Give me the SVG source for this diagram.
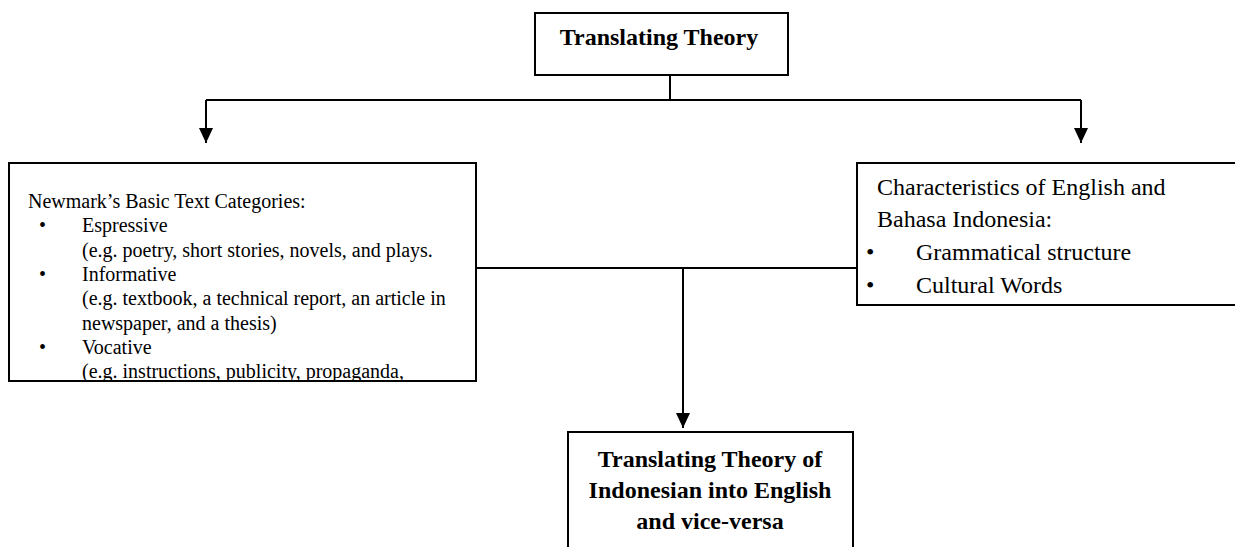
<svg xmlns="http://www.w3.org/2000/svg" width="1235" height="547" viewBox="0 0 1235 547">
  <defs>
    <marker id="arrow" markerUnits="userSpaceOnUse" markerWidth="16" markerHeight="18" viewBox="0 0 16 18" refX="15" refY="8" orient="auto">
      <path d="M0,1 L15,8 L0,15 Z" fill="#000"/>
    </marker>
    <clipPath id="clipLeft"><rect x="9" y="163" width="467" height="217"/></clipPath>
  </defs>
  <style>
    .box { fill: #fff; stroke: #000; stroke-width: 2; }
    .line { fill: none; stroke: #000; stroke-width: 2; }
    .bold { font-family: "Liberation Serif", "Times New Roman", serif; font-weight: bold; font-size: 24px; fill: #000; }
    .reg { font-family: "Liberation Serif", "Times New Roman", serif; font-size: 20px; fill: #000; }
    .reg24 { font-family: "Liberation Serif", "Times New Roman", serif; font-size: 24px; fill: #000; }
  </style>
  <rect width="1235" height="547" fill="#fff"/>

  <g id="connectors">
    <polyline class="line" points="670,75 670,100"/>
    <polyline class="line" points="206,100 1081,100"/>
    <polyline class="line" points="206,100 206,143" marker-end="url(#arrow)"/>
    <polyline class="line" points="1081,100 1081,143" marker-end="url(#arrow)"/>
    <polyline class="line" points="476,268 857,268"/>
    <polyline class="line" points="683,268 683,428" marker-end="url(#arrow)"/>
  </g>

  <g id="node-top">
    <rect class="box" x="535" y="13" width="253" height="62"/>
    <text class="bold" x="659" y="45" text-anchor="middle">Translating Theory</text>
  </g>

  <g id="node-left">
    <rect class="box" x="9" y="163" width="467" height="218"/>
    <g clip-path="url(#clipLeft)" class="reg">
      <text x="28" y="208">Newmark’s Basic Text Categories:</text>
      <text x="39" y="232">•</text>
      <text x="82" y="232">Espressive</text>
      <text x="82" y="257">(e.g. poetry, short stories, novels, and plays.</text>
      <text x="39" y="281">•</text>
      <text x="82" y="281">Informative</text>
      <text x="82" y="305">(e.g. textbook, a technical report, an article in</text>
      <text x="82" y="330">newspaper, and a thesis)</text>
      <text x="39" y="354">•</text>
      <text x="82" y="354">Vocative</text>
      <text x="82" y="378">(e.g. instructions, publicity, propaganda,</text>
    </g>
  </g>

  <g id="node-right">
    <rect class="box" x="857" y="163" width="390" height="142"/>
    <g class="reg24">
      <text x="877" y="195">Characteristics of English and</text>
      <text x="877" y="227">Bahasa Indonesia:</text>
      <text x="866" y="260">•</text>
      <text x="916" y="260">Grammatical structure</text>
      <text x="866" y="293">•</text>
      <text x="916" y="293">Cultural Words</text>
    </g>
  </g>

  <g id="node-bottom">
    <rect class="box" x="568" y="432" width="285" height="130"/>
    <g class="bold" text-anchor="middle">
      <text x="710" y="467">Translating Theory of</text>
      <text x="710" y="498">Indonesian into English</text>
      <text x="710" y="529">and vice-versa</text>
    </g>
  </g>
</svg>
